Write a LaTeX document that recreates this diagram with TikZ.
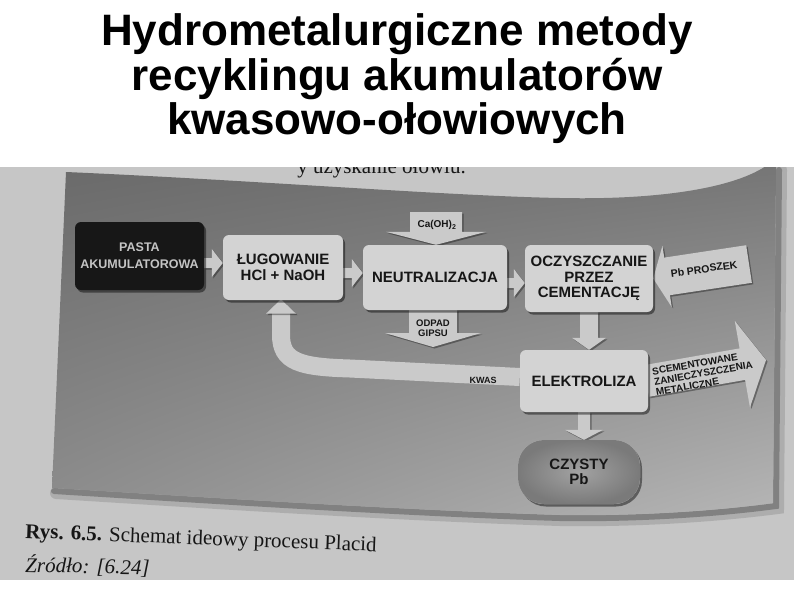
\documentclass[tikz,border=0pt]{standalone}
\usepackage{fontspec}
\setmainfont{Liberation Serif}
\setsansfont{Liberation Sans}
\usetikzlibrary{calc,shadows,shadings}

\definecolor{pagegray}{HTML}{C6C6C6}
\definecolor{boxfill}{HTML}{D3D3D3}
\definecolor{arrowfill}{HTML}{CACACA}
\definecolor{pastafill}{HTML}{171717}
\definecolor{pastatext}{HTML}{C4C4C4}
\definecolor{inktext}{HTML}{161616}
\definecolor{frUL}{HTML}{6A6A6A}
\definecolor{frUR}{HTML}{767676}
\definecolor{frLL}{HTML}{8E8E8E}
\definecolor{frLR}{HTML}{B6B6B6}
\definecolor{pbinner}{HTML}{A2A2A2}
\definecolor{pbouter}{HTML}{7A7A7A}

\pgfdeclarelayer{back}
\pgfdeclarelayer{arrows}
\pgfsetlayers{back,arrows,main}

\tikzset{
  boxshadow/.style={drop shadow={shadow xshift=2pt, shadow yshift=-2.5pt, opacity=0.45, fill=black}},
  arrowshadow/.style={drop shadow={shadow xshift=1.5pt, shadow yshift=-1.5pt, opacity=0.35, fill=black}},
  procbox/.style={rectangle, rounded corners=6pt, fill=boxfill, boxshadow, align=center, text=inktext,
    font=\sffamily\bfseries\fontsize{15}{15.5}\selectfont, inner sep=0pt},
  pastabox/.style={procbox, fill=pastafill, text=pastatext, font=\sffamily\bfseries\fontsize{12.5}{17}\selectfont},
  arrowlabel/.style={text=inktext, font=\sffamily\bfseries\fontsize{9.5}{10.5}\selectfont, align=center, inner sep=0pt},
  titletext/.style={font=\sffamily\bfseries\fontsize{44}{45}\selectfont, inner sep=0pt, anchor=base, text=black},
  blockfill/.style={fill=arrowfill, arrowshadow},
  kwasband/.style={line width=18pt, draw=arrowfill,
    preaction={draw=black, opacity=0.3, transform canvas={shift={(1.5pt,-2pt)}}}},
  captext/.style={anchor=base west, inner sep=0pt, text=inktext, font=\fontsize{21}{23}\selectfont},
}

% block arrow from #2 to #3: #4 shaft half width, #5 head half width, #6 head length
\newcommand{\blockarr}[6]{%
  \path #2; \pgfgetlastxy{\bax}{\bay}%
  \path #3; \pgfgetlastxy{\bbx}{\bby}%
  \pgfmathsetmacro{\bang}{atan2(\bby-\bay,\bbx-\bax)}%
  \pgfmathsetmacro{\blen}{veclen(\bbx-\bax,\bby-\bay)}%
  \pgfmathsetmacro{\bhx}{\blen-#6}%
  \begin{scope}[shift={(\bax,\bay)}, rotate=\bang]
    \fill[#1] (0pt,-#4pt) -- (\bhx pt,-#4pt) -- (\bhx pt,-#5pt) -- (\blen pt,0pt)
      -- (\bhx pt,#5pt) -- (\bhx pt,#4pt) -- (0pt,#4pt) -- cycle;
  \end{scope}}

\begin{document}
\begin{tikzpicture}[x=1pt, y=-1pt]
\useasboundingbox (0,0) rectangle (794,595);

% ---------- photo background ----------
\begin{pgfonlayer}{back}
\fill[white] (0,0) rectangle (794,595);
\fill[pagegray] (0,166) rectangle (794,580);
% fragment of page text (cut off by the white band above)
\node[anchor=base east, inner sep=0pt, text=inktext, font=\fontsize{21}{22}\selectfont] (frag) at (466,173) {y uzyskanie ołowiu.};
% frame shadow
\draw[black, opacity=0.12, line width=12pt, line cap=round]
  (56,493) .. controls (200,502) and (400,515) .. (560,520) .. controls (620,521) and (700,518) .. (778,508) -- (781,170);
\draw[black, opacity=0.25, line width=6pt, line cap=round]
  (54,491) .. controls (200,500) and (400,513) .. (560,518) .. controls (620,519) and (700,516) .. (776,506) -- (779,170);
% frame
\shade[shading=bilinear interpolation, upper left=frUL, upper right=frUR, lower left=frLL, lower right=frLR]
  (66,172) .. controls (250,180) and (450,196) .. (560,198) .. controls (650,200) and (730,190) .. (766,166)
  -- (776,166) -- (773,503) .. controls (700,513) and (620,516) .. (560,515)
  .. controls (400,510) and (200,497) .. (52,488) -- cycle;
\fill[white] (0,0) rectangle (794,167);
\end{pgfonlayer}

% ---------- title ----------
\node[titletext] (t1) at (397,45) {Hydrometalurgiczne metody};
\node[titletext] (t2) at (397,90) {recyklingu akumulatorów};
\node[titletext] (t3) at (397,134) {kwasowo-ołowiowych};

% ---------- boxes ----------
\node[pastabox, minimum width=129pt, minimum height=68pt] (pasta) at (139.5,256) {PASTA\\AKUMULATOROWA};
\node[procbox, minimum width=120pt, minimum height=65pt] (lug) at (283,267.5) {ŁUGOWANIE\\HCl + NaOH};
\node[procbox, minimum width=144pt, minimum height=65pt] (neut) at (435,277.5) {NEUTRALIZACJA};
\node[procbox, minimum width=128pt, minimum height=67pt] (cem) at (589,278.5) {OCZYSZCZANIE\\PRZEZ\\CEMENTACJĘ};
\node[procbox, minimum width=128pt, minimum height=62pt] (elek) at (584,381) {ELEKTROLIZA};
\node[procbox, rounded corners=26pt, inner color=pbinner, outer color=pbouter,
      minimum width=122pt, minimum height=64pt] (czysty) at (579,472) {CZYSTY\\Pb};

% ---------- arrow labels ----------
\node[arrowlabel, font=\sffamily\bfseries\fontsize{10}{11}\selectfont] (caoh) at (437,225) {Ca(OH)\textsubscript{2}};
\node[arrowlabel] (odpad) at (433,328) {ODPAD\\GIPSU};
\node[arrowlabel, font=\sffamily\bfseries\fontsize{10.5}{11}\selectfont, rotate=8] (pbproszek) at (704,269) {Pb PROSZEK};
\node[arrowlabel, font=\sffamily\bfseries\fontsize{9}{10}\selectfont] (kwas) at (483,380) {KWAS};
\node[arrowlabel, align=left, rotate=10, anchor=west, font=\sffamily\bfseries\fontsize{10}{10.5}\selectfont] (scem) at (654,382) {SCEMENTOWANE\\ZANIECZYSZCZENIA\\METALICZNE};

\coordinate (castart) at (436,212);
\coordinate (odpadend) at (433,347);
\coordinate (pbstart) at (749,264);
\coordinate (scemend) at (766,360);

% ---------- arrows ----------
\begin{pgfonlayer}{arrows}
\blockarr{blockfill}{($(pasta.east)+(0,7)$)}{($(lug.west)+(0,-4.5)$)}{5}{14}{11}
\blockarr{blockfill}{($(lug.east)+(0,5.5)$)}{($(neut.west)+(0,-4.5)$)}{5}{14}{11}
\blockarr{blockfill}{($(neut.east)+(0,5.5)$)}{($(cem.west)+(0,4.5)$)}{5}{14}{11}
\blockarr{blockfill}{(castart)}{(castart |- neut.north)}{26}{50}{13}
\blockarr{blockfill}{(odpadend |- neut.south)}{(odpadend)}{24}{48}{14}
\blockarr{blockfill}{(pbstart)}{(cem.east)}{19}{31}{14}
\blockarr{blockfill}{(cem.south)}{(elek.north -| cem.south)}{9}{17}{12}
\blockarr{blockfill}{(elek.south)}{(elek.south |- czysty.north)}{6}{19}{10}
\blockarr{blockfill}{($(elek.east)+(-2,0)$)}{(scemend)}{16}{44}{24}
% KWAS return arrow
\draw[kwasband] ($(elek.west)+(0,-4)$) -- (350,368.5) .. controls (300,367) and (281,362) .. (281,335)
  -- ($(lug.south)+(-2,13)$);
\fill[blockfill] ($(lug.south)+(-17,13.5)$) -- ($(lug.south)+(-2,-1)$) -- ($(lug.south)+(13,13.5)$) -- cycle;
\end{pgfonlayer}

% ---------- caption ----------
\node[captext, rotate=-2.2] (rys) at (25,538) {\textbf{Rys. 6.5.} Schemat ideowy procesu Placid};
\node[captext, rotate=-1.2, font=\itshape\fontsize{21}{23}\selectfont] (zrodlo) at (25,572) {Źródło: [6.24]};
\end{tikzpicture}
\end{document}
